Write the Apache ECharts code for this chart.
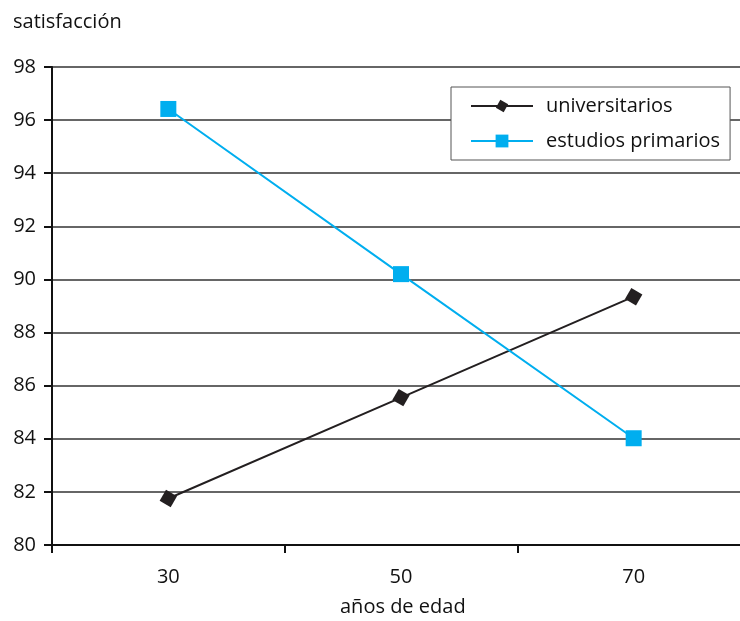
<!DOCTYPE html>
<html><head><meta charset="utf-8">
<script src="https://cdn.jsdelivr.net/npm/echarts@6/dist/echarts.min.js"></script>
<style>html,body{margin:0;padding:0;background:#fff}#c{width:740px;height:621px}</style>
</head><body><div id="c"></div>
<script>
const categories = ['30', '50', '70'];
const universitarios = [81.75, 85.55, 89.35];
const estudiosPrimarios = [96.42, 90.2, 84.02];
const yTicks = {min: 80, max: 98, interval: 2};
const FONT = '"Open Sans", "Noto Sans", sans-serif';

const chart = echarts.init(document.getElementById('c'));
chart.setOption({
  animation: false,
  textStyle: {fontFamily: FONT},
  grid: {left: 52, top: 67, width: 698, height: 478, containLabel: false, outerBoundsMode: 'none'},
  graphic: [
    {type: 'text', left: 13, top: 12, style: {text: 'satisfacción', fontSize: 20, fill: '#111', fontFamily: FONT}},
    {type: 'text', left: 340, top: 597, style: {text: 'años de edad', fontSize: 20, fill: '#111', fontFamily: FONT}}
  ],
  legend: {
    orient: 'vertical', left: 451, top: 87,
    padding: [9, 10, 9, 19],
    backgroundColor: '#fff', borderColor: '#555', borderWidth: 1,
    itemWidth: 62, itemHeight: 16, itemGap: 15,
    textStyle: {fontSize: 20, color: '#111', fontFamily: FONT, padding: [0, 0, 0, 8]},
    data: ['universitarios', 'estudios primarios']
  },
  xAxis: {
    type: 'category', data: categories, boundaryGap: true,
    axisLine: {lineStyle: {color: '#111', width: 2}},
    axisTick: {show: true, length: 8, lineStyle: {color: '#111', width: 2}, alignWithLabel: false},
    axisLabel: {fontSize: 20, color: '#111', margin: 22, fontFamily: FONT},
    splitLine: {show: false}
  },
  yAxis: {
    type: 'value', min: yTicks.min, max: yTicks.max, interval: yTicks.interval,
    axisLine: {show: true, lineStyle: {color: '#111', width: 2}},
    axisTick: {show: true, length: 8, lineStyle: {color: '#111', width: 2}},
    axisLabel: {fontSize: 20, color: '#111', margin: 16, fontFamily: FONT},
    splitLine: {show: true, lineStyle: {color: '#333', width: 1.5}}
  },
  series: [
    {
      name: 'universitarios', type: 'line', data: universitarios,
      symbol: 'diamond', symbolSize: 18, symbolRotate: 15,
      lineStyle: {color: '#231f20', width: 2},
      itemStyle: {color: '#231f20'},
      z: 3
    },
    {
      name: 'estudios primarios', type: 'line', data: estudiosPrimarios,
      symbol: 'rect', symbolSize: 16,
      lineStyle: {color: '#00aeef', width: 2},
      itemStyle: {color: '#00aeef'},
      z: 4
    }
  ]
});
</script></body></html>
